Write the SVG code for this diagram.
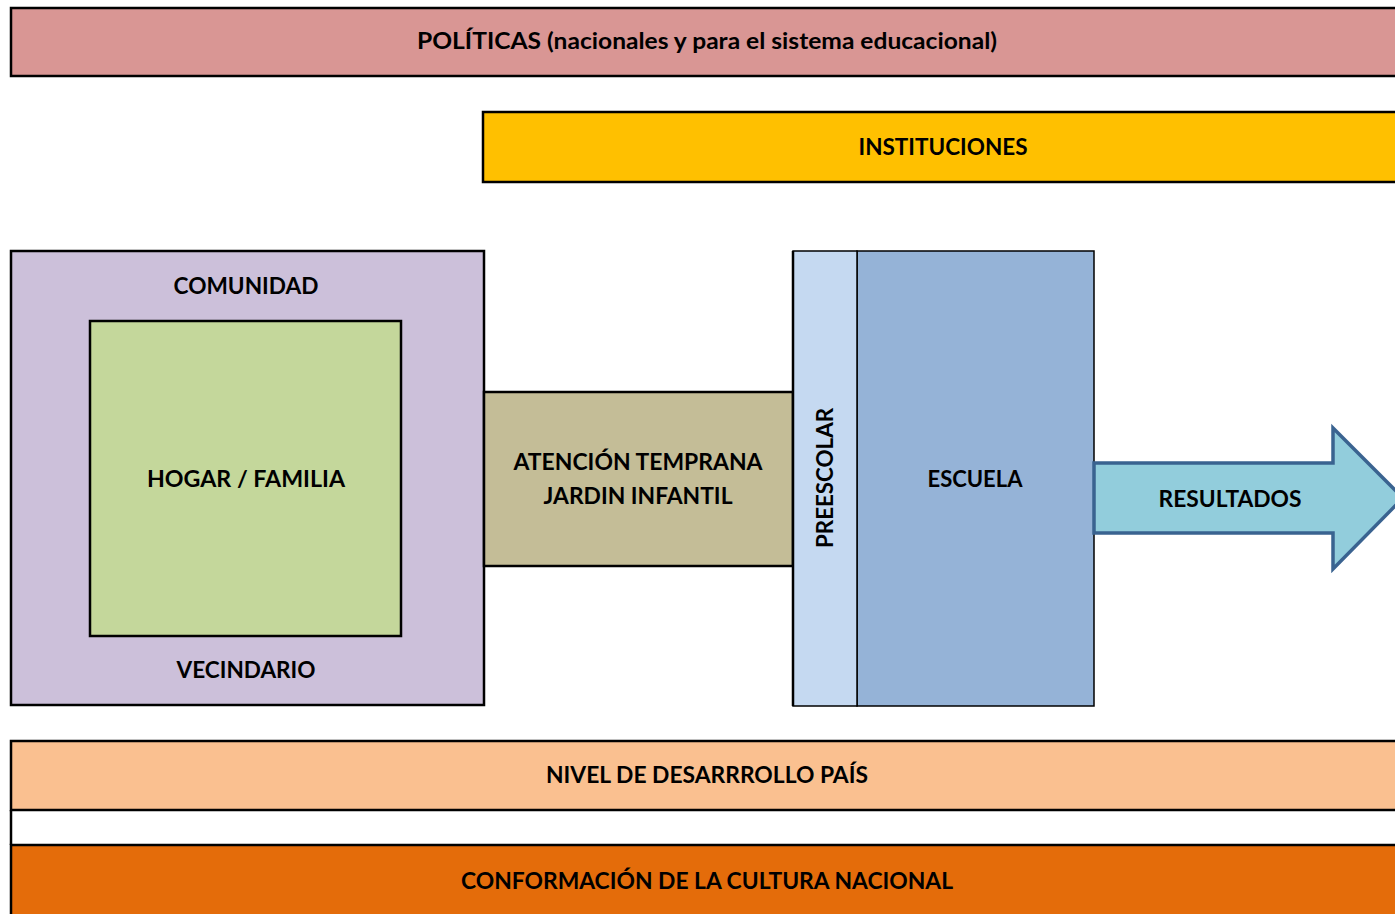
<svg xmlns="http://www.w3.org/2000/svg" width="1395" height="914" viewBox="0 0 1395 914">
<style>
  .box { stroke: #000; stroke-width: 2.5; }
  .thin { stroke: #000; stroke-width: 1.5; }
  .lbl { font-family: Lato, "Open Sans", "Liberation Sans", sans-serif; font-weight: 700; font-size: 22px; fill: #000; text-anchor: middle; }
</style>
<rect width="1395" height="914" fill="#fff"/>
<g id="politicas">
  <rect class="box" x="11" y="8" width="1400" height="68" fill="#D99694"/>
  <text class="lbl" x="707" y="49" textLength="580" lengthAdjust="spacingAndGlyphs">POLÍTICAS (nacionales y para el sistema educacional)</text>
</g>
<g id="instituciones">
  <rect class="box" x="483" y="112" width="930" height="70" fill="#FFC000"/>
  <text class="lbl" x="943" y="155" textLength="169" lengthAdjust="spacingAndGlyphs">INSTITUCIONES</text>
</g>
<g id="comunidad">
  <rect class="box" x="11" y="251" width="473" height="454" fill="#CCC0DA"/>
  <text class="lbl" x="246" y="294" textLength="145" lengthAdjust="spacingAndGlyphs">COMUNIDAD</text>
  <text class="lbl" x="246" y="678" textLength="139" lengthAdjust="spacingAndGlyphs">VECINDARIO</text>
</g>
<g id="hogar">
  <rect class="box" x="90" y="321" width="311" height="315" fill="#C4D79B"/>
  <text class="lbl" x="246" y="487" textLength="198" lengthAdjust="spacingAndGlyphs">HOGAR / FAMILIA</text>
</g>
<g id="atencion">
  <rect class="box" x="484" y="392" width="309" height="174" fill="#C4BD97"/>
  <text class="lbl" x="638" y="470" textLength="249" lengthAdjust="spacingAndGlyphs">ATENCIÓN TEMPRANA</text>
  <text class="lbl" x="638" y="504" textLength="189" lengthAdjust="spacingAndGlyphs">JARDIN INFANTIL</text>
</g>
<g id="escuela">
  <rect class="thin" x="857" y="251" width="237" height="455" fill="#95B3D7"/>
  <text class="lbl" x="975" y="487" textLength="95" lengthAdjust="spacingAndGlyphs">ESCUELA</text>
</g>
<g id="preescolar">
  <rect class="thin" x="793" y="251" width="64" height="455" fill="#C5D9F1"/>
  <line class="box" x1="793" y1="251" x2="793" y2="706"/>
  <text class="lbl" transform="translate(833,478) rotate(-90)" x="0" y="0" textLength="140" lengthAdjust="spacingAndGlyphs">PREESCOLAR</text>
</g>
<g id="connectors">
  <g id="resultados">
    <path d="M1094,463 H1333 V428 L1403,498 L1333,569 V533 H1094 Z" fill="#92CDDC" stroke="#3A6390" stroke-width="3.5" stroke-linejoin="miter"/>
    <text class="lbl" x="1230" y="507" textLength="143" lengthAdjust="spacingAndGlyphs">RESULTADOS</text>
  </g>
</g>
<g id="nivel">
  <rect class="box" x="11" y="741" width="1400" height="69" fill="#FAC090"/>
  <text class="lbl" x="707" y="783" textLength="322" lengthAdjust="spacingAndGlyphs">NIVEL DE DESARRROLLO PAÍS</text>
</g>
<g id="cultura">
  <rect class="box" x="11" y="845" width="1400" height="80" fill="#E46C0A"/>
  <text class="lbl" x="707" y="889" textLength="492" lengthAdjust="spacingAndGlyphs">CONFORMACIÓN DE LA CULTURA NACIONAL</text>
</g>
<line class="box" x1="11" y1="810" x2="11" y2="845"/>
</svg>
